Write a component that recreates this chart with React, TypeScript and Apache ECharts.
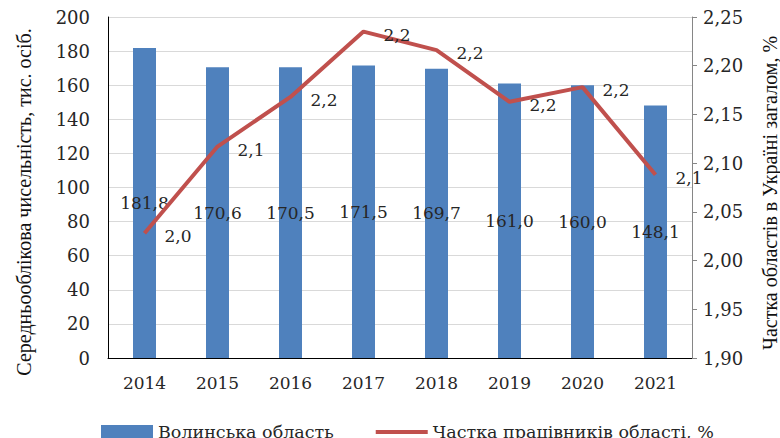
import React, { useEffect, useRef } from "react";
import * as echarts from "echarts";

const years = ["2014", "2015", "2016", "2017", "2018", "2019", "2020", "2021"];
const employees = [181.8, 170.6, 170.5, 171.5, 169.7, 161.0, 160.0, 148.1];
const share = [2.028, 2.117, 2.168, 2.235, 2.216, 2.163, 2.178, 2.088];
const barName = "Волинська область";
const lineName = "Частка працівників області, %";
const leftTitle = "Середньооблікова чисельність, тис. осіб.";
const rightTitle = "Частка областів в Україні загалом, %";

const numFont = "DejaVu Serif";
const titleFont = "Liberation Serif";
const textColor = "#262626";

export default function App() {
  const ref = useRef<HTMLDivElement>(null);
  useEffect(() => {
    if (!ref.current) return;
    document.body.style.margin = "0";
    const chart = echarts.init(ref.current, null, { renderer: "svg" });
    chart.setOption({
      animation: false,
      backgroundColor: "#ffffff",
      grid: { left: 108, right: 88, top: 17, bottom: 80, containLabel: false },
      graphic: [
        {
          type: "text",
          x: 24,
          y: 202,
          rotation: Math.PI / 2,
          style: {
            text: leftTitle,
            fontFamily: titleFont,
            fontSize: 20,
            fill: "#111",
            align: "center",
            verticalAlign: "middle",
          },
        },
        {
          type: "text",
          x: 770,
          y: 193,
          rotation: Math.PI / 2,
          style: {
            text: rightTitle,
            fontFamily: titleFont,
            fontSize: 20,
            fill: "#111",
            align: "center",
            verticalAlign: "middle",
          },
        },
      ],
      legend: {
        left: 101,
        top: 423,
        padding: 0,
        itemGap: 42,
        itemWidth: 52,
        itemHeight: 14,
        textStyle: { fontFamily: numFont, fontSize: 17.5, color: textColor },
        data: [
          { name: barName, icon: "rect" },
          { name: lineName, icon: "path://M0,0L52,0L52,4L0,4Z", itemStyle: { color: "#C0504D" } },
        ],
      },
      xAxis: {
        type: "category",
        data: years,
        axisLine: { show: true, lineStyle: { color: "#000000", width: 1 } },
        axisTick: { show: false },
        axisLabel: { margin: 16, fontFamily: numFont, fontSize: 17, color: textColor },
      },
      yAxis: [
        {
          type: "value",
          min: 0,
          max: 200,
          interval: 20,
          axisLine: { show: true, lineStyle: { color: "#000000", width: 1 } },
          axisTick: { show: false },
          axisLabel: { margin: 18, fontFamily: numFont, fontSize: 18, color: textColor },
          splitLine: { show: true, lineStyle: { color: "#d9d9d9", width: 1 } },
        },
        {
          type: "value",
          min: 1.9,
          max: 2.25,
          interval: 0.05,
          position: "right",
          axisLine: { show: true, lineStyle: { color: "#868686", width: 1 } },
          axisTick: { show: true, length: 5, inside: false, lineStyle: { color: "#868686" } },
          axisLabel: {
            margin: 11,
            fontFamily: numFont,
            fontSize: 18,
            color: textColor,
            formatter: (v: number) => v.toFixed(2).replace(".", ","),
          },
          splitLine: { show: false },
        },
      ],
      series: [
        {
          name: barName,
          type: "bar",
          yAxisIndex: 0,
          data: employees,
          barWidth: 23,
          itemStyle: { color: "#4F81BD" },
          label: {
            show: true,
            position: "inside",
            fontFamily: numFont,
            fontSize: 17,
            color: textColor,
            formatter: (p: any) => Number(p.value).toFixed(1).replace(".", ","),
          },
        },
        {
          name: lineName,
          type: "line",
          yAxisIndex: 1,
          data: share,
          symbol: "circle",
          symbolSize: 0,
          showSymbol: true,
          lineStyle: { color: "#C0504D", width: 4 },
          itemStyle: { color: "#C0504D" },
          label: {
            show: true,
            position: "right",
            distance: 20,
            offset: [0, 3],
            fontFamily: numFont,
            fontSize: 17,
            color: textColor,
            formatter: (p: any) => Number(p.value).toFixed(1).replace(".", ","),
          },
        },
      ],
    });
    return () => chart.dispose();
  }, []);
  return <div ref={ref} style={{ width: 780, height: 438 }} />;
}
